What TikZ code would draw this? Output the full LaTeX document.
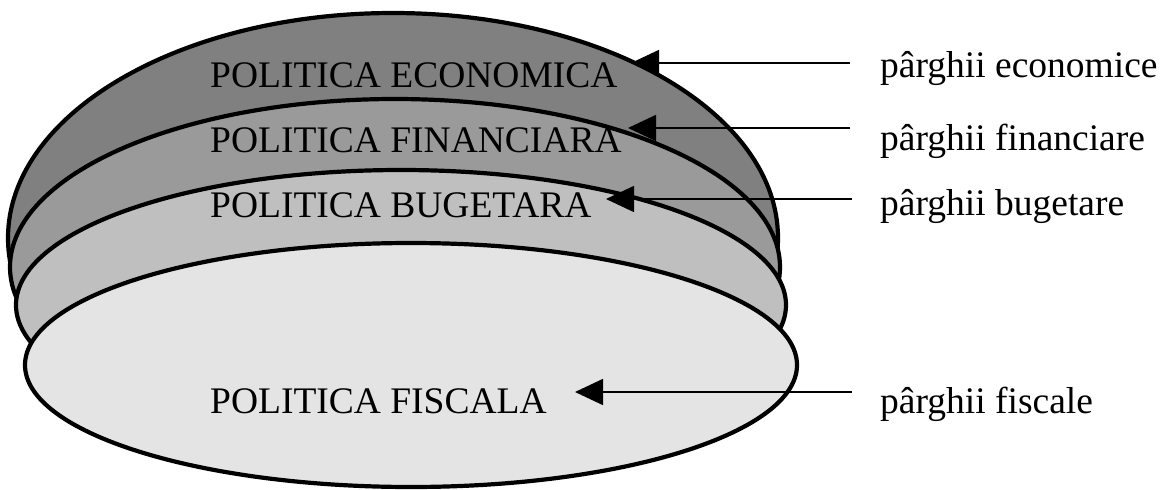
\documentclass[tikz,border=0pt]{standalone}
\usepackage{fontspec}
\setmainfont{Liberation Serif}
\usetikzlibrary{arrows.meta}
\definecolor{gA}{HTML}{808080}
\definecolor{gB}{HTML}{9A9A9A}
\definecolor{gC}{HTML}{BFBFBF}
\definecolor{gD}{HTML}{E4E4E4}
\begin{document}
\begin{tikzpicture}[x=1pt,y=-1pt,
  layer/.style={draw=black,line width=4.2pt},
  ptxt/.style={anchor=base west,inner sep=0pt,font=\fontsize{37.5}{42}\selectfont},
  lev/.style={line width=1.6pt,-{Triangle[length=28pt,width=26pt]}}]
\useasboundingbox (0,0) rectangle (1160,490);
% layers, back to front
\draw[layer,fill=gA] (393,238) ellipse [x radius=385pt,y radius=225pt];
\draw[layer,fill=gB] (395,267) ellipse [x radius=385pt,y radius=168pt];
\draw[layer,fill=gC] (401,305) ellipse [x radius=385pt,y radius=135pt];
\draw[layer,fill=gD] (411,365) ellipse [x radius=386pt,y radius=122pt];
% policy labels
\node[ptxt] (pe) at (210,87) {POLITICA ECONOMICA};
\node[ptxt] (pf) at (210,152) {POLITICA FINANCIARA};
\node[ptxt] (pb) at (210,217) {POLITICA BUGETARA};
\node[ptxt] (px) at (210,413) {POLITICA FISCALA};
% lever labels
\node[ptxt] (le) at (880,77) {pârghii economice};
\node[ptxt] (lf) at (880,150) {pârghii financiare};
\node[ptxt] (lb) at (880,215) {pârghii bugetare};
\node[ptxt] (lx) at (880,413) {pârghii fiscale};
% arrow ends
\coordinate (se) at (850,63);  \coordinate (te) at (631,63);
\coordinate (sf) at (850,128); \coordinate (tf) at (628,128);
\coordinate (sb) at (852,199); \coordinate (tb) at (606,199);
\coordinate (sx) at (852,392); \coordinate (tx) at (575,392);
\draw[lev] (se) -- (te);
\draw[lev] (sf) -- (tf);
\draw[lev] (sb) -- (tb);
\draw[lev] (sx) -- (tx);
\end{tikzpicture}
\end{document}
